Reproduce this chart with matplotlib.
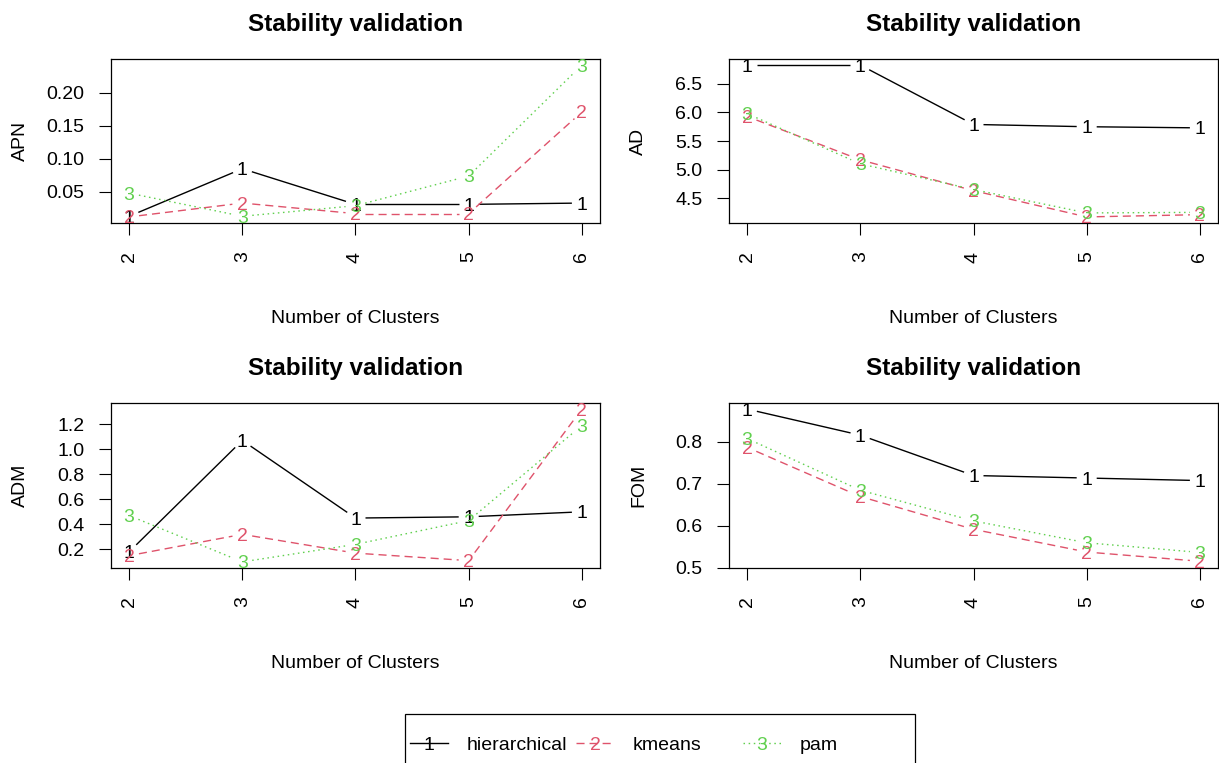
import matplotlib
matplotlib.use('Agg')
import matplotlib.pyplot as plt
import numpy as np
from matplotlib.patches import Rectangle
from matplotlib.lines import Line2D

plt.rcParams['font.family'] = ['Liberation Sans', 'DejaVu Sans']
plt.rcParams['lines.scale_dashes'] = False

# ---------------- data ----------------
clusters = [2, 3, 4, 5, 6]
methods = ['hierarchical', 'kmeans', 'pam']
method_chars = ['1', '2', '3']

apn_hierarchical = [0.013, 0.085, 0.031, 0.031, 0.033]
apn_kmeans = [0.012, 0.033, 0.017, 0.017, 0.171]
apn_pam = [0.048, 0.013, 0.029, 0.074, 0.242]

ad_hierarchical = [6.83, 6.83, 5.79, 5.75, 5.73]
ad_kmeans = [5.93, 5.17, 4.63, 4.17, 4.21]
ad_pam = [5.98, 5.10, 4.65, 4.24, 4.25]

adm_hierarchical = [0.18, 1.07, 0.45, 0.46, 0.50]
adm_kmeans = [0.15, 0.32, 0.17, 0.11, 1.32]
adm_pam = [0.47, 0.10, 0.24, 0.43, 1.19]

fom_hierarchical = [0.878, 0.816, 0.720, 0.714, 0.708]
fom_kmeans = [0.787, 0.670, 0.592, 0.538, 0.516]
fom_pam = [0.808, 0.685, 0.612, 0.560, 0.537]

measure_names = ['APN', 'AD', 'ADM', 'FOM']

apn_ticks = [0.05, 0.10, 0.15, 0.20]
apn_ticklabels = ['0.05', '0.10', '0.15', '0.20']
ad_ticks = [4.5, 5.0, 5.5, 6.0, 6.5]
ad_ticklabels = ['4.5', '5.0', '5.5', '6.0', '6.5']
adm_ticks = [0.2, 0.4, 0.6, 0.8, 1.0, 1.2]
adm_ticklabels = ['0.2', '0.4', '0.6', '0.8', '1.0', '1.2']
fom_ticks = [0.5, 0.6, 0.7, 0.8]
fom_ticklabels = ['0.5', '0.6', '0.7', '0.8']

title_text = 'Stability validation'
xlabel_text = 'Number of Clusters'

# ---------------- style ----------------
colors = ['#000000', '#DF536B', '#61D04F']
linestyles = ['-', (0, (5.8, 3.6)), (0, (1.1, 2.6))]
LW = 1.0
GAP = 10.0  # px gap around the point characters (R type="b")

W, H = 1219, 763
fig = plt.figure(figsize=(W / 100, H / 100), dpi=100)


def fx(px):
    return px / W


def fy(py):
    return 1 - py / H


panels = [
    (measure_names[0], [apn_hierarchical, apn_kmeans, apn_pam], apn_ticks, apn_ticklabels, (111, 59, 600, 223)),
    (measure_names[1], [ad_hierarchical, ad_kmeans, ad_pam], ad_ticks, ad_ticklabels, (729, 59, 1218, 223)),
    (measure_names[2], [adm_hierarchical, adm_kmeans, adm_pam], adm_ticks, adm_ticklabels, (111, 403, 600, 568)),
    (measure_names[3], [fom_hierarchical, fom_kmeans, fom_pam], fom_ticks, fom_ticklabels, (729, 403, 1218, 568)),
]


def draw_series(ax, xs, ys, color, ls, ch):
    pts = ax.transData.transform(np.column_stack([xs, ys]))
    inv = ax.transData.inverted()
    for p0, p1 in zip(pts[:-1], pts[1:]):
        d = p1 - p0
        L = np.hypot(d[0], d[1])
        if L <= 2 * GAP:
            continue
        u = d / L
        a = inv.transform(p0 + u * GAP)
        b = inv.transform(p1 - u * GAP)
        ax.plot([a[0], b[0]], [a[1], b[1]], color=color, lw=LW, linestyle=ls,
                solid_capstyle='butt', dash_capstyle='butt')
    for x, y in zip(xs, ys):
        ax.text(x, y, ch, color=color, fontsize=14, ha='center',
                va='center_baseline', clip_on=False)


for name, series, yt, ytl, (l, t, r, b) in panels:
    ax = fig.add_axes([fx(l), fy(b), fx(r) - fx(l), fy(t) - fy(b)])
    xmin, xmax = min(clusters), max(clusters)
    xpad = 0.04 * (xmax - xmin)
    ax.set_xlim(xmin - xpad, xmax + xpad)
    allv = np.concatenate([np.asarray(s) for s in series])
    ymin, ymax = allv.min(), allv.max()
    ypad = 0.04 * (ymax - ymin)
    ax.set_ylim(ymin - ypad, ymax + ypad)

    ax.set_xticks(clusters)
    ax.set_xticklabels([str(c) for c in clusters], rotation=90)
    ax.set_yticks(yt)
    ax.set_yticklabels(ytl)
    ax.tick_params(axis='both', direction='out', length=8.6, width=0.8,
                   labelsize=14, colors='black')
    ax.tick_params(axis='x', pad=12)
    ax.tick_params(axis='y', pad=10.5)
    for sp in ax.spines.values():
        sp.set_linewidth(0.9)
        sp.set_color('black')

    for s, c, ls, ch in zip(series, colors, linestyles, method_chars):
        draw_series(ax, clusters, s, c, ls, ch)

    cx = (l + r) / 2
    fig.text(fx(cx), fy(t - 28), title_text, fontsize=17.5, fontweight='bold',
             ha='center', va='baseline')
    fig.text(fx(cx), fy(b + 95), xlabel_text, fontsize=14, ha='center', va='center')
    fig.text(fx(l - 90.5), fy((t + b) / 2), name, fontsize=14, rotation=90,
             ha='center', va='center')

# ---------------- legend (clipped at the bottom as in the source) ----------------
fig.add_artist(Rectangle((fx(405), fy(800)), fx(915) - fx(405), fy(714) - fy(800),
                         transform=fig.transFigure, fill=False, lw=0.9, ec='black'))
legend_text_x = [467, 633, 800]
leg_y = 743
for m, c, ls, ch, tx in zip(methods, colors, linestyles, method_chars, legend_text_x):
    cxs = tx - 38
    fig.add_artist(Line2D([fx(cxs - 19), fx(cxs + 19)], [fy(leg_y), fy(leg_y)],
                          transform=fig.transFigure, color=c, lw=LW, linestyle=ls))
    fig.text(fx(cxs), fy(leg_y), ch, color=c, fontsize=14, ha='center', va='center_baseline')
    fig.text(fx(tx), fy(leg_y), m, fontsize=14, ha='left', va='center_baseline')

fig.savefig('out.png', dpi=100)
